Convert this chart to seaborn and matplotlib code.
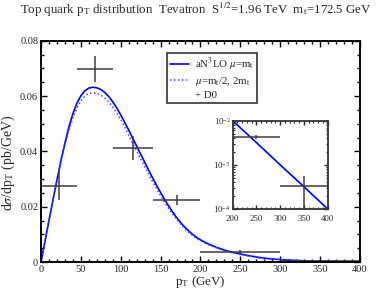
import matplotlib
matplotlib.use("Agg")
import matplotlib.pyplot as plt
from matplotlib.lines import Line2D
from matplotlib.ticker import MultipleLocator, LogLocator, NullFormatter, FixedLocator
import seaborn as sns
import pandas as pd

# ---- data ----
pt = [0, 5, 10, 15, 20, 25, 30, 35, 40, 45, 50, 55, 60, 65, 70, 75, 80, 85, 90, 95,
      100, 105, 110, 115, 120, 125, 130, 135, 140, 145, 150, 155, 160, 165, 170, 175,
      180, 185, 190, 195, 200, 210, 220, 230, 240, 250, 260, 270, 280, 290, 300,
      320, 340, 360, 380, 400]
an3lo = [0.0, 0.0075, 0.0150, 0.0224, 0.0297, 0.0366, 0.0430, 0.0488, 0.0536, 0.0574,
         0.0601, 0.0619, 0.0629, 0.0632, 0.0630, 0.0624, 0.0613, 0.0598, 0.0579, 0.0557,
         0.0532, 0.0505, 0.0477, 0.0448, 0.0419, 0.0390, 0.0361, 0.0332, 0.0304, 0.0277,
         0.0251, 0.0226, 0.0203, 0.0181, 0.0161, 0.0143, 0.0127, 0.0113, 0.0100, 0.0089,
         0.0080, 0.0065, 0.0053, 0.0043, 0.0035, 0.0029, 0.0023, 0.0018, 0.0014, 0.0011,
         0.0009, 0.00055, 0.00034, 0.00021, 0.00013, 0.0001]
scale_var = [0.0, 0.0074, 0.0148, 0.0221, 0.0293, 0.0360, 0.0422, 0.0476, 0.0521, 0.0557,
             0.0583, 0.0600, 0.0610, 0.0612, 0.0610, 0.0604, 0.0593, 0.0579, 0.0560, 0.0539,
             0.0515, 0.0488, 0.0458, 0.0429, 0.0401, 0.0373, 0.0345, 0.0317, 0.0290, 0.0265,
             0.0240, 0.0216, 0.0194, 0.0173, 0.0154, 0.0137, 0.0121, 0.0108, 0.0096, 0.0085,
             0.0077, 0.0062, 0.0051, 0.0041, 0.0034, 0.0028, 0.0022, 0.0017, 0.0013, 0.0011,
             0.00086, 0.00053, 0.00033, 0.0002, 0.000125, 0.000096]

d0_pt = [22.5, 67.5, 115, 170, 250, 350]
d0_xerr = [22.5, 22.5, 25, 30, 50, 50]
d0_sigma = [0.0276, 0.0697, 0.0413, 0.0224, 0.0036, 0.00033]
d0_err = [0.0052, 0.0047, 0.0044, 0.0018, 0.0007, 0.00022]

inset_pt = [200, 250, 300, 350, 400]
inset_an3lo = [1.0e-2, 3.2e-3, 1.0e-3, 3.2e-4, 1.0e-4]
inset_d0_pt = [250, 350]
inset_d0_xerr = [50, 50]
inset_d0_sigma = [4.3e-3, 3.3e-4]
inset_d0_err = [0.4e-3, 2.3e-4]

x_ticks = [0, 50, 100, 150, 200, 250, 300, 350, 400]
y_ticks = [0, 0.02, 0.04, 0.06, 0.08]
y_ticklabels = ["0", "0.02", "0.04", "0.06", "0.08"]
inset_x_ticks = [200, 250, 300, 350, 400]

# ---- style ----
sns.set_style("ticks")
plt.rcParams["font.family"] = ["Liberation Serif", "DejaVu Serif"]
plt.rcParams["mathtext.fontset"] = "stix"

fig = plt.figure(figsize=(3.82, 2.93), dpi=100)
ax = fig.add_axes([0.1073, 0.1058, 0.835, 0.755])

df_main = pd.DataFrame({"pt": pt, "a": an3lo, "s": scale_var})
sns.lineplot(data=df_main, x="pt", y="a", ax=ax, color="#0000ff", lw=1.2)
sns.lineplot(data=df_main, x="pt", y="s", ax=ax, color="#4848ff", lw=1.1,
             linestyle=(0, (1, 1.6)))
ax.errorbar(d0_pt, d0_sigma, xerr=d0_xerr, yerr=d0_err, fmt="none",
            ecolor="#3c3c3c", elinewidth=1.1, capsize=0)

ax.set_xlim(0, 400)
ax.set_ylim(0, 0.08)
ax.set_xticks(x_ticks)
ax.set_xticklabels([str(t) for t in x_ticks])
ax.set_yticks(y_ticks)
ax.set_yticklabels(y_ticklabels)
ax.xaxis.set_minor_locator(MultipleLocator(10))
ax.yaxis.set_minor_locator(MultipleLocator(0.005))
ax.tick_params(which="both", direction="in", top=True, right=True,
               labelsize=7.5, pad=2, color="black")
ax.tick_params(which="major", length=4, width=1)
ax.tick_params(which="minor", length=2, width=1)
for s in ax.spines.values():
    s.set_linewidth(1.4)
    s.set_color("black")
ax.set_xlabel(r"p$_\mathregular{T}$ (GeV)", fontsize=9.4, labelpad=0)
ax.set_ylabel(r"d$\sigma$/dp$_\mathregular{T}$ (pb/GeV)", fontsize=10.0)
ax.yaxis.set_label_coords(-0.074, 0.45)

handles = [Line2D([], [], color="#0000ff", lw=1.2),
           Line2D([], [], color="#4848ff", lw=1.1, linestyle=(0, (1, 1.6))),
           Line2D([], [], lw=0, alpha=0)]
labels = [r"aN$^3$LO $\mu$=m$_\mathregular{t}$",
          r"$\mu$=m$_\mathregular{t}$/2, 2m$_\mathregular{t}$",
          "+ D0"]
leg = ax.legend(handles, labels, loc="upper left", bbox_to_anchor=(0.395, 0.947),
                fontsize=7.8, frameon=True, fancybox=False, edgecolor="black",
                handlelength=1.7, handletextpad=0.6, borderpad=0.3, labelspacing=0.2,
                borderaxespad=0)
leg.get_frame().set_linewidth(1.2)

fig.text(0.513, 0.966, r"Top quark p$_\mathregular{T}$ distribution  Tevatron  "
         r"S$^{1/2}$=1.96 TeV  m$_\mathregular{t}$=172.5 GeV",
         ha="center", va="center", fontsize=9.3)

# ---- inset ----
ax2 = fig.add_axes([0.609, 0.2867, 0.2487, 0.3014])
df_in = pd.DataFrame({"pt": inset_pt, "a": inset_an3lo})
sns.lineplot(data=df_in, x="pt", y="a", ax=ax2, color="#0000ff", lw=1.2)
ax2.errorbar(inset_d0_pt, inset_d0_sigma, xerr=inset_d0_xerr, yerr=inset_d0_err,
             fmt="none", ecolor="#3c3c3c", elinewidth=1.1, capsize=0)
ax2.set_yscale("log")
ax2.set_xlim(200, 400)
ax2.set_ylim(1e-4, 1e-2)
ax2.set_xticks(inset_x_ticks)
ax2.set_xticklabels([str(t) for t in inset_x_ticks])
ax2.xaxis.set_minor_locator(MultipleLocator(10))
ax2.yaxis.set_major_locator(FixedLocator([1e-4, 1e-3, 1e-2]))
ax2.yaxis.set_minor_locator(LogLocator(base=10, subs=range(2, 10), numticks=10))
ax2.yaxis.set_minor_formatter(NullFormatter())
ax2.tick_params(which="both", direction="in", top=True, right=True,
                labelsize=6.3, pad=1.5)
ax2.tick_params(axis="x", which="major", pad=4)
ax2.tick_params(which="major", length=3, width=1)
ax2.tick_params(which="minor", length=1.5, width=0.8)
for s in ax2.spines.values():
    s.set_linewidth(1.3)
    s.set_color("#333333")
ax2.set_xlabel("")
ax2.set_ylabel("")

fig.savefig("out.png", dpi=100)
